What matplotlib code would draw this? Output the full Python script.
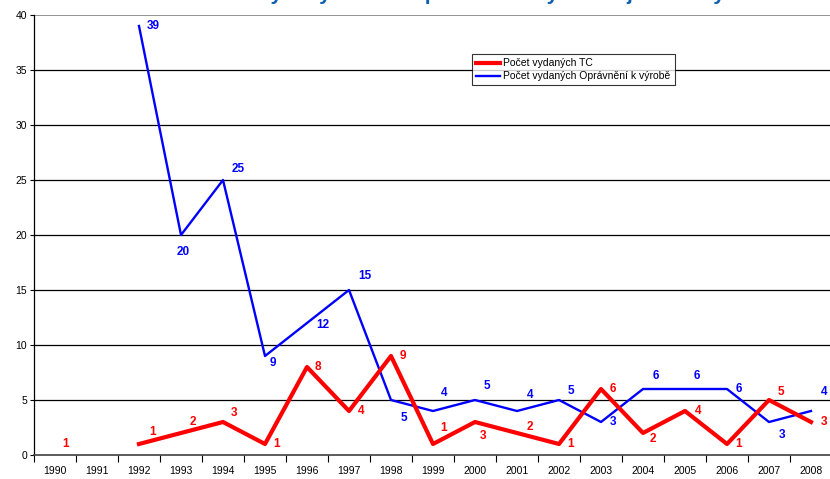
import numpy as np
import matplotlib
matplotlib.use("Agg")
import matplotlib.pyplot as plt

plt.rcParams['font.family'] = ['Liberation Sans', 'DejaVu Sans']

years = ['1990', '1991', '1992', '1993', '1994', '1995', '1996', '1997', '1998', '1999',
         '2000', '2001', '2002', '2003', '2004', '2005', '2006', '2007', '2008']
tc_counts = [1, None, 1, 2, 3, 1, 8, 4, 9, 1, 3, 2, 1, 6, 2, 4, 1, 5, 3]
opr_counts = [None, None, 39, 20, 25, 9, 12, 15, 5, 4, 5, 4, 5, 3, 6, 6, 6, 3, 4]
y_ticks = [0, 5, 10, 15, 20, 25, 30, 35, 40]

title_text = 'Počet vydaných TC a oprávnění k výrobě v jednotlivých letech'
tc_label = 'Počet vydaných TC'
opr_label = 'Počet vydaných Oprávnění k výrobě'

# label offsets in pixels (dx, dy) relative to the data point
tc_offsets = [(11, 0), None, (14, 12), (12, 11), (11, 9), (12, 0), (11, 0), (12, 0), (12, 0),
              (11, 16), (8, -14), (13, 6), (12, 0), (12, 0), (10, -6), (13, 0), (12, 0),
              (12, 8), (13, 0)]
opr_offsets = [None, None, (14, 0), (2, -17), (15, 11), (8, -7), (16, -2), (16, 14), (13, -18),
               (11, 18), (12, 14), (13, 16), (12, 9), (12, 0), (13, 13), (12, 13), (12, 0),
               (13, -13), (13, 19)]

RED = '#ff0000'
BLUE = '#0000ff'

fig = plt.figure(figsize=(8.3, 4.79), dpi=100)
ax = fig.add_axes([34 / 830, 1 - 455 / 479, 798 / 830, 440 / 479])

x = np.arange(len(years))
tc = np.array([np.nan if v is None else v for v in tc_counts], dtype=float)
opr = np.array([np.nan if v is None else v for v in opr_counts], dtype=float)

for yv in y_ticks[1:-1]:
    ax.axhline(yv, color='black', lw=0.9, zorder=1)
ax.axhline(40, color='#808080', lw=1.2, zorder=1)

ax.plot(x, opr, color=BLUE, lw=1.7, label=opr_label, zorder=3)
ax.plot(x, tc, color=RED, lw=3.0, label=tc_label, zorder=4)

for i in range(len(years)):
    if tc_counts[i] is not None:
        ax.annotate(str(tc_counts[i]), (x[i], tc_counts[i]), xytext=tc_offsets[i],
                    textcoords='offset pixels', ha='center', va='center',
                    color=RED, fontsize=8.5, fontweight='bold', zorder=5)
    if opr_counts[i] is not None:
        ax.annotate(str(opr_counts[i]), (x[i], opr_counts[i]), xytext=opr_offsets[i],
                    textcoords='offset pixels', ha='center', va='center',
                    color=BLUE, fontsize=8.5, fontweight='bold', zorder=5)

ax.set_xlim(-0.5, len(years) - 0.5)
ax.set_ylim(0, 40)
ax.set_yticks(y_ticks)
ax.tick_params(axis='y', labelsize=7.5, length=3, width=0.8, pad=2)

ax.set_xticks(np.arange(len(years) + 1) - 0.5)
ax.set_xticklabels([])
ax.set_xticks(x, minor=True)
ax.set_xticklabels(years, minor=True)
ax.tick_params(axis='x', which='major', length=5, width=0.8, direction='out')
ax.tick_params(axis='x', which='minor', length=0, labelsize=7.5, pad=8)

for side in ['top', 'right']:
    ax.spines[side].set_visible(False)
ax.spines['left'].set_linewidth(0.9)
ax.spines['bottom'].set_color('#404040')
ax.spines['bottom'].set_linewidth(1.2)

handles, labels = ax.get_legend_handles_labels()
leg = ax.legend(handles[::-1], labels[::-1], loc='upper left',
                bbox_to_anchor=(472 / 830, 1 - 54 / 479), bbox_transform=fig.transFigure,
                fontsize=7.5, frameon=True, fancybox=False, handlelength=2.3,
                borderpad=0.4, labelspacing=0.3, handletextpad=0.3, borderaxespad=0)
leg.get_frame().set_edgecolor('black')
leg.get_frame().set_linewidth(0.8)

# title is cut off at the top edge in the original, only descenders show
fig.text(0.61, 1.0, title_text, ha='center', va='baseline',
         fontsize=15, fontweight='bold', color='#1060b0')

fig.savefig('out.png', dpi=100)
